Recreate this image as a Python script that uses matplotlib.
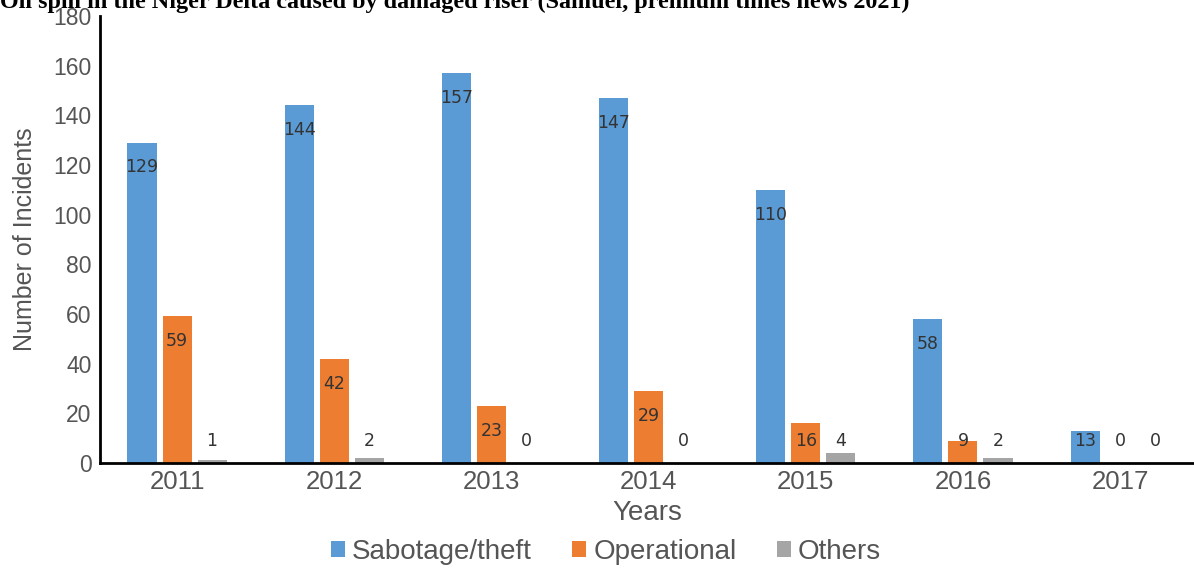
import matplotlib
matplotlib.use("Agg")
import matplotlib.pyplot as plt
import numpy as np

years = ["2011", "2012", "2013", "2014", "2015", "2016", "2017"]
sabotage = [129, 144, 157, 147, 110, 58, 13]
operational = [59, 42, 23, 29, 16, 9, 0]
others = [1, 2, 0, 0, 4, 2, 0]
series_names = ["Sabotage/theft", "Operational", "Others"]
colors = ["#5B9BD5", "#ED7D31", "#A5A5A5"]
title = "Oil spill in the Niger Delta caused by damaged riser (Samuel, premium times news 2021)"

plt.rcParams["font.family"] = ["Liberation Sans", "DejaVu Sans"]

fig = plt.figure(figsize=(11.94, 5.68), dpi=100)
ax = fig.add_axes([0.0838, 0.1849, 0.9162, 0.787])

x = np.arange(len(years))
w = 0.185
off = 0.223
for i, (vals, name, c) in enumerate(zip([sabotage, operational, others], series_names, colors)):
    pos = x + (i - 1) * off
    ax.bar(pos, vals, width=w, color=c, label=name, zorder=2)
    for p, v in zip(pos, vals):
        ax.text(p, max(v - 10, 9), str(v), ha="center", va="center",
                fontsize=12.5, color="#333333", family="DejaVu Sans", zorder=3)

ax.set_xlim(-0.49, 6.47)
ax.set_ylim(0, 180)
ax.set_yticks(np.arange(0, 181, 20))
ax.set_xticks(x)
ax.set_xticklabels(years)
ax.tick_params(axis="both", length=0, colors="#555555")
ax.tick_params(axis="y", labelsize=16.5, pad=6)
ax.tick_params(axis="x", labelsize=18.5, pad=5)
for s in ["top", "right"]:
    ax.spines[s].set_visible(False)
for s in ["left", "bottom"]:
    ax.spines[s].set_linewidth(2)
    ax.spines[s].set_color("black")
ax.set_xlabel("Years", fontsize=20, color="#555555", va="center")
ax.xaxis.set_label_coords(0.5, -(513 - 463) / 447)
ax.set_ylabel("Number of Incidents", fontsize=18, color="#555555", va="center")
ax.yaxis.set_label_coords(-(100 - 25) / 1094, 0.5)

leg = ax.legend(loc="center", bbox_to_anchor=(0.4625, -(552 - 463) / 447), ncol=3, frameon=False,
                fontsize=20, handlelength=0.5, handleheight=0.5, handletextpad=0.25,
                columnspacing=1.45, borderpad=0)
for t in leg.get_texts():
    t.set_color("#555555")

fig.text(0.0, 1 - 8 / 568, title, fontsize=17.4, fontweight="bold",
         family="Liberation Serif", ha="left", va="baseline")

fig.savefig("out.png", dpi=100)
